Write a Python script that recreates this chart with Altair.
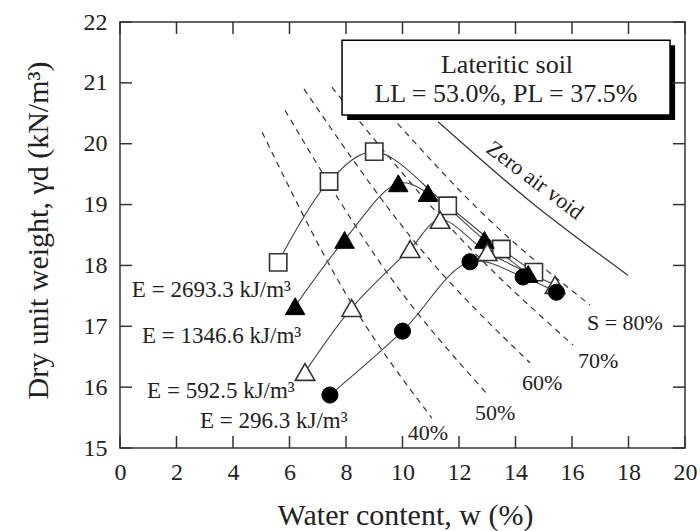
import altair as alt
import pandas as pd

# ---------------- data ----------------
sq_w = [5.6, 7.4, 9.0, 11.6, 13.5, 14.65]
sq_g = [18.05, 19.38, 19.87, 18.98, 18.27, 17.89]
ft_w = [6.2, 7.95, 9.85, 10.9, 12.9, 14.45]
ft_g = [17.33, 18.42, 19.35, 19.19, 18.42, 17.86]
ot_w = [6.55, 8.2, 10.27, 11.33, 13.0, 15.4]
ot_g = [16.25, 17.30, 18.27, 18.75, 18.22, 17.68]
fc_w = [7.43, 10.0, 12.39, 14.27, 15.45]
fc_g = [15.87, 16.92, 18.06, 17.81, 17.56]

energy_labels = ["E = 2693.3 kJ/m³", "E = 1346.6 kJ/m³", "E = 592.5 kJ/m³", "E = 296.3 kJ/m³"]
energy_lab_w = [0.42, 0.78, 0.96, 2.83]
energy_lab_g = [17.48, 16.73, 15.82, 15.33]

# degree-of-saturation lines (dashed)
s40_w = [5.03, 8.0, 11.04];  s40_g = [20.19, 17.53, 15.49]
s50_w = [5.84, 9.5, 13.03];  s50_g = [20.55, 17.85, 15.87]
s60_w = [6.51, 10.5, 14.51]; s60_g = [20.90, 18.35, 16.40]
s70_w = [7.50, 12.0, 16.04]; s70_g = [20.93, 18.47, 16.69]
s80_w = [9.56, 13.0, 16.64]; s80_g = [20.47, 18.78, 17.35]
s_labels = ["40%", "50%", "60%", "70%", "S = 80%"]
s_lab_w = [10.19, 12.57, 14.23, 16.21, 16.53]
s_lab_g = [15.13, 15.46, 15.95, 16.31, 16.94]

# zero air void line
zav_w = [11.26, 14.5, 17.98]
zav_g = [20.36, 19.06, 17.84]

x_ticks = [0, 2, 4, 6, 8, 10, 12, 14, 16, 18, 20]
y_ticks = [15, 16, 17, 18, 19, 20, 21, 22]

box_w = [7.86, 19.47]
box_g = [20.47, 21.70]
shadow_dx = 0.18
shadow_dg = 0.08
box_lines = ["Lateritic soil", "LL = 53.0%, PL = 37.5%"]
box_lab_w = [13.70, 13.66]
box_lab_g = [21.17, 20.69]

zav_text = "Zero air void"
zav_text_w = [14.69]
zav_text_g = [19.40]

# ---------------- tables ----------------
comp = pd.concat([
    pd.DataFrame({"w": sq_w, "g": sq_g, "s": "E4"}),
    pd.DataFrame({"w": ft_w, "g": ft_g, "s": "E3"}),
    pd.DataFrame({"w": ot_w, "g": ot_g, "s": "E2"}),
    pd.DataFrame({"w": fc_w, "g": fc_g, "s": "E1"}),
])
sat = pd.concat([
    pd.DataFrame({"w": s40_w, "g": s40_g, "s": "40"}),
    pd.DataFrame({"w": s50_w, "g": s50_g, "s": "50"}),
    pd.DataFrame({"w": s60_w, "g": s60_g, "s": "60"}),
    pd.DataFrame({"w": s70_w, "g": s70_g, "s": "70"}),
    pd.DataFrame({"w": s80_w, "g": s80_g, "s": "80"}),
])
zav = pd.DataFrame({"w": zav_w, "g": zav_g})

FONT = "Liberation Serif"
INK = "#222222"
W, H = 565, 426

xs = alt.Scale(domain=[0, 20], nice=False, zero=False)
ys = alt.Scale(domain=[15, 22], nice=False, zero=False)

x_axis = alt.Axis(values=x_ticks, ticks=False, tickSize=0, domain=False, grid=False,
                  labelFont=FONT, labelFontSize=24, labelColor=INK, labelPadding=12,
                  labelFlush=False, title="Water content, w (%)", titleFont=FONT,
                  titleFontSize=30, titleFontWeight="normal", titleColor=INK,
                  titleX=285, titleY=67, titleBaseline="middle", titleAlign="center")
y_axis = alt.Axis(values=y_ticks, ticks=False, tickSize=0, domain=False, grid=False,
                  labelFont=FONT, labelFontSize=24, labelColor=INK, labelPadding=13,
                  title="Dry unit weight, γd (kN/m³)", titleFont=FONT,
                  titleFontSize=30, titleFontWeight="normal", titleColor=INK,
                  titleAngle=270, titleX=-82, titleY=208, titleBaseline="middle",
                  titleAlign="center")


def X(f="w"):
    return alt.X(f"{f}:Q", scale=xs, axis=x_axis)


def Y(f="g"):
    return alt.Y(f"{f}:Q", scale=ys, axis=y_axis)


sat_lines = alt.Chart(sat).mark_line(color="#333333", strokeWidth=1.2, strokeDash=[6, 5],
                                      interpolate="monotone").encode(
    x=X(), y=Y(), detail="s:N")

zav_line = alt.Chart(zav).mark_line(color="#333333", strokeWidth=1.2,
                                    interpolate="monotone").encode(x=X(), y=Y())

comp_lines = alt.Chart(comp).mark_line(color="#444444", strokeWidth=1.1,
                                       interpolate="catmull-rom").encode(
    x=X(), y=Y(), detail="s:N")

sq = alt.Chart(pd.DataFrame({"w": sq_w, "g": sq_g})).mark_point(
    shape="square", size=300, filled=True, fill="white", stroke="#333333",
    strokeWidth=1.6, opacity=1).encode(x=X(), y=Y())
ft = alt.Chart(pd.DataFrame({"w": ft_w, "g": ft_g})).mark_point(
    shape="triangle-up", size=380, filled=True, fill="black", stroke="black",
    strokeWidth=1, opacity=1).encode(x=X(), y=Y())
ot = alt.Chart(pd.DataFrame({"w": ot_w, "g": ot_g})).mark_point(
    shape="triangle-up", size=380, filled=True, fill="white", stroke="#333333",
    strokeWidth=1.6, opacity=1).encode(x=X(), y=Y())
fc = alt.Chart(pd.DataFrame({"w": fc_w, "g": fc_g})).mark_point(
    shape="circle", size=260, filled=True, fill="black", stroke="black",
    strokeWidth=1, opacity=1).encode(x=X(), y=Y())

box_df = pd.DataFrame({"x1": [box_w[0]], "x2": [box_w[1]], "y1": [box_g[0]], "y2": [box_g[1]]})
shadow_df = pd.DataFrame({"x1": [box_w[0] + shadow_dx], "x2": [box_w[1] + shadow_dx],
                          "y1": [box_g[0] - shadow_dg], "y2": [box_g[1] - shadow_dg]})
shadow = alt.Chart(shadow_df).mark_rect(color="black").encode(
    x=X("x1"), x2="x2:Q", y=Y("y1"), y2="y2:Q")
box = alt.Chart(box_df).mark_rect(fill="white", stroke="black", strokeWidth=1.5).encode(
    x=X("x1"), x2="x2:Q", y=Y("y1"), y2="y2:Q")

box_text = alt.Chart(pd.DataFrame({"w": box_lab_w, "g": box_lab_g, "t": box_lines})).mark_text(
    font=FONT, fontSize=26, color=INK, align="center", baseline="alphabetic").encode(
    x=X(), y=Y(), text="t:N")

e_text = alt.Chart(pd.DataFrame({"w": energy_lab_w, "g": energy_lab_g, "t": energy_labels})).mark_text(
    font=FONT, fontSize=23, color=INK, align="left", baseline="alphabetic").encode(
    x=X(), y=Y(), text="t:N")

s_text = alt.Chart(pd.DataFrame({"w": s_lab_w, "g": s_lab_g, "t": s_labels})).mark_text(
    font=FONT, fontSize=22, color=INK, align="left", baseline="alphabetic").encode(
    x=X(), y=Y(), text="t:N")

z_text = alt.Chart(pd.DataFrame({"w": zav_text_w, "g": zav_text_g, "t": [zav_text]})).mark_text(
    font=FONT, fontSize=22, color=INK, align="center", baseline="middle", angle=37).encode(
    x=X(), y=Y(), text="t:N")

xt = pd.DataFrame({"v": x_ticks})
yt = pd.DataFrame({"v": y_ticks})
TK = 12
tick_style = dict(color="#333333", strokeWidth=1.5)
t_bottom = alt.Chart(xt).mark_rule(**tick_style).encode(
    x=X("v"), y=alt.value(H), y2=alt.value(H - TK))
t_top = alt.Chart(xt).mark_rule(**tick_style).encode(
    x=X("v"), y=alt.value(0), y2=alt.value(TK))
t_left = alt.Chart(yt).mark_rule(**tick_style).encode(
    y=Y("v"), x=alt.value(0), x2=alt.value(TK))
t_right = alt.Chart(yt).mark_rule(**tick_style).encode(
    y=Y("v"), x=alt.value(W), x2=alt.value(W - TK))

chart = alt.layer(
    sat_lines, zav_line, comp_lines, sq, ft, ot, fc, shadow, box, box_text,
    e_text, s_text, z_text, t_bottom, t_top, t_left, t_right
).properties(
    width=W, height=H, autosize="none",
    padding={"left": 120, "top": 22, "right": 15, "bottom": 83},
    background="white",
).configure_view(stroke="#333333", strokeWidth=1.5)

chart.save("out.html", embed_options={"renderer": "svg", "actions": False})
